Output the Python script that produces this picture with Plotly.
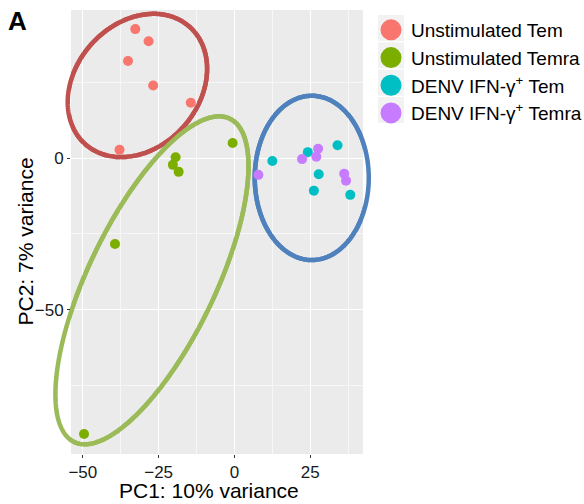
import numpy as np
import plotly.graph_objects as go

# ---------------- data ----------------
group_names = ['Unstimulated Tem', 'Unstimulated Temra',
               'DENV IFN-γ<sup>+</sup> Tem', 'DENV IFN-γ<sup>+</sup> Temra']
group_colors = ['#F8766D', '#7CAE00', '#00BFC4', '#C77CFF']

unstim_tem_pc1 = [-32.7, -28.3, -35.1, -26.8, -14.4, -37.9]
unstim_tem_pc2 = [42.6, 38.6, 32.1, 24.0, 18.3, 2.8]

unstim_temra_pc1 = [-0.6, -19.4, -20.3, -18.4, -39.4, -49.6]
unstim_temra_pc2 = [5.0, 0.3, -2.2, -4.5, -28.3, -91.0]

denv_tem_pc1 = [12.5, 24.2, 34.0, 27.8, 26.2, 38.2]
denv_tem_pc2 = [-0.9, 2.0, 4.3, -5.3, -10.7, -12.1]

denv_temra_pc1 = [7.9, 27.6, 22.3, 27.0, 36.2, 36.8]
denv_temra_pc2 = [-5.5, 3.1, -0.3, 0.5, -5.1, -7.4]

# group ellipses (centre, semi-axes, rotation in degrees)
ellipse_cx = [-32.0, -27.2, 25.5]
ellipse_cy = [24.0, -40.3, -6.5]
ellipse_a = [25.9, 59.2, 18.8]
ellipse_b = [20.4, 20.9, 27.1]
ellipse_deg = [48.4, 64.3, 0.0]
ellipse_colors = ['#C0504D', '#9BBB59', '#4F81BD']

x_ticks = [-50, -25, 0, 25]
y_ticks = [-50, 0]

X_RANGE = [-53.9, 42.4]
Y_RANGE = [-97.6, 48.9]

FONT = 'Liberation Sans, Arial, Helvetica, sans-serif'

# page body has an 8px default margin: figure is sized so the panel lands
# at the same place as in the reference
PAGE_OFF = 8
FIG_W, FIG_H = 584 - PAGE_OFF, 504 - PAGE_OFF
M_L, M_R, M_T, M_B = 71 - PAGE_OFF, 221, 10 - PAGE_OFF, 50
PW = FIG_W - M_L - M_R   # panel width in px
PH = FIG_H - M_T - M_B   # panel height in px

series_x = [unstim_tem_pc1, unstim_temra_pc1, denv_tem_pc1, denv_temra_pc1]
series_y = [unstim_tem_pc2, unstim_temra_pc2, denv_tem_pc2, denv_temra_pc2]

fig = go.Figure()

for name, col, xs, ys in zip(group_names, group_colors, series_x, series_y):
    fig.add_trace(go.Scatter(
        x=xs, y=ys, mode='markers', name=name, showlegend=False,
        marker=dict(size=10, color=col, line=dict(width=0)),
        hoverinfo='x+y+name'))

# legend-only entries with large keys
for name, col in zip(group_names, group_colors):
    fig.add_trace(go.Scatter(
        x=[None], y=[None], mode='markers', name=name,
        marker=dict(size=16, color=col, line=dict(width=5, color=col))))


def ellipse_path(cx, cy, a, b, deg, to_paper=False, n=240):
    t = np.linspace(0, 2 * np.pi, n)
    th = np.deg2rad(deg)
    ex = cx + a * np.cos(th) * np.cos(t) - b * np.sin(th) * np.sin(t)
    ey = cy + a * np.sin(th) * np.cos(t) + b * np.cos(th) * np.sin(t)
    if to_paper:
        ex = (ex - X_RANGE[0]) / (X_RANGE[1] - X_RANGE[0])
        ey = (ey - Y_RANGE[0]) / (Y_RANGE[1] - Y_RANGE[0])
    pts = ['%s%.5f,%.5f' % ('M' if i == 0 else 'L', px, py)
           for i, (px, py) in enumerate(zip(ex, ey))]
    return ' '.join(pts) + ' Z'


shapes = []
for cx, cy, a, b, deg, col in zip(ellipse_cx, ellipse_cy, ellipse_a,
                                  ellipse_b, ellipse_deg, ellipse_colors):
    # part outside the panel (paper coordinates, under the plot layer)
    shapes.append(dict(type='path', xref='paper', yref='paper', layer='below',
                       path=ellipse_path(cx, cy, a, b, deg, to_paper=True),
                       line=dict(color=col, width=4.5)))
    # part inside the panel (data coordinates, above gridlines, below points)
    shapes.append(dict(type='path', xref='x', yref='y', layer='between',
                       path=ellipse_path(cx, cy, a, b, deg),
                       line=dict(color=col, width=4.5)))


def px_x(p):  # absolute page pixel -> paper x
    return (p - 71) / PW


def px_y(p):  # absolute page pixel -> paper y
    return (454 - p) / PH


# grey legend key backgrounds
key_rows = [28.0, 55.3, 82.6, 109.9]
for c in key_rows:
    shapes.append(dict(type='rect', xref='paper', yref='paper', layer='above',
                       x0=px_x(378), x1=px_x(404), y0=px_y(c + 13), y1=px_y(c - 13),
                       fillcolor='#F2F2F2', line=dict(width=0)))

fig.update_layout(
    width=FIG_W, height=FIG_H,
    margin=dict(l=M_L, r=M_R, t=M_T, b=M_B, autoexpand=False),
    paper_bgcolor='white', plot_bgcolor='#EBEBEB',
    font=dict(family=FONT, color='#1A1A1A'),
    shapes=shapes,
    showlegend=True,
    legend=dict(x=px_x(371), y=px_y(11.0), xanchor='left', yanchor='top',
                bgcolor='rgba(0,0,0,0)', font=dict(size=19, color='black', family=FONT),
                itemsizing='trace', traceorder='normal'),
    annotations=[
        dict(text='<b>A</b>', xref='paper', yref='paper', x=px_x(6), y=px_y(4),
             xanchor='left', yanchor='top', showarrow=False,
             font=dict(size=26, color='black', family=FONT)),
        dict(text='PC1: 10% variance', xref='paper', yref='paper', x=px_x(209.3), y=px_y(490.5),
             xanchor='center', yanchor='middle', showarrow=False,
             font=dict(size=21, color='black', family=FONT)),
        dict(text='PC2: 7% variance', xref='paper', yref='paper', x=px_x(25), y=px_y(241.5),
             xanchor='center', yanchor='middle', showarrow=False, textangle=-90,
             font=dict(size=21, color='black', family=FONT)),
    ],
)

fig.update_xaxes(range=X_RANGE, tickmode='array', tickvals=x_ticks,
                 ticks='outside', ticklen=3, tickcolor='#333333', tickwidth=1,
                 tickfont=dict(size=17, color='#1A1A1A', family=FONT),
                 showgrid=True, gridcolor='white', gridwidth=1.2,
                 zeroline=False, showline=False,
                 minor=dict(tickmode='array', tickvals=[-37.5, -12.5, 12.5, 37.5],
                            showgrid=True, gridcolor='#F7F7F7', gridwidth=0.6, ticks=''))
fig.update_yaxes(range=Y_RANGE, tickmode='array', tickvals=y_ticks,
                 ticks='outside', ticklen=3, tickcolor='#333333', tickwidth=1,
                 tickfont=dict(size=17, color='#1A1A1A', family=FONT),
                 showgrid=True, gridcolor='white', gridwidth=1.2,
                 zeroline=False, showline=False,
                 minor=dict(tickmode='array', tickvals=[-75, -25, 25],
                            showgrid=True, gridcolor='#F7F7F7', gridwidth=0.6, ticks=''))

# keep the page from growing a scrollbar (body keeps its top/left offset)
post = ("document.body.style.margin='8px 0 0 8px';"
        "document.documentElement.style.overflow='hidden';"
        "document.body.style.overflow='hidden';")

fig.write_html('out.html', config=dict(displayModeBar=False), post_script=post)
